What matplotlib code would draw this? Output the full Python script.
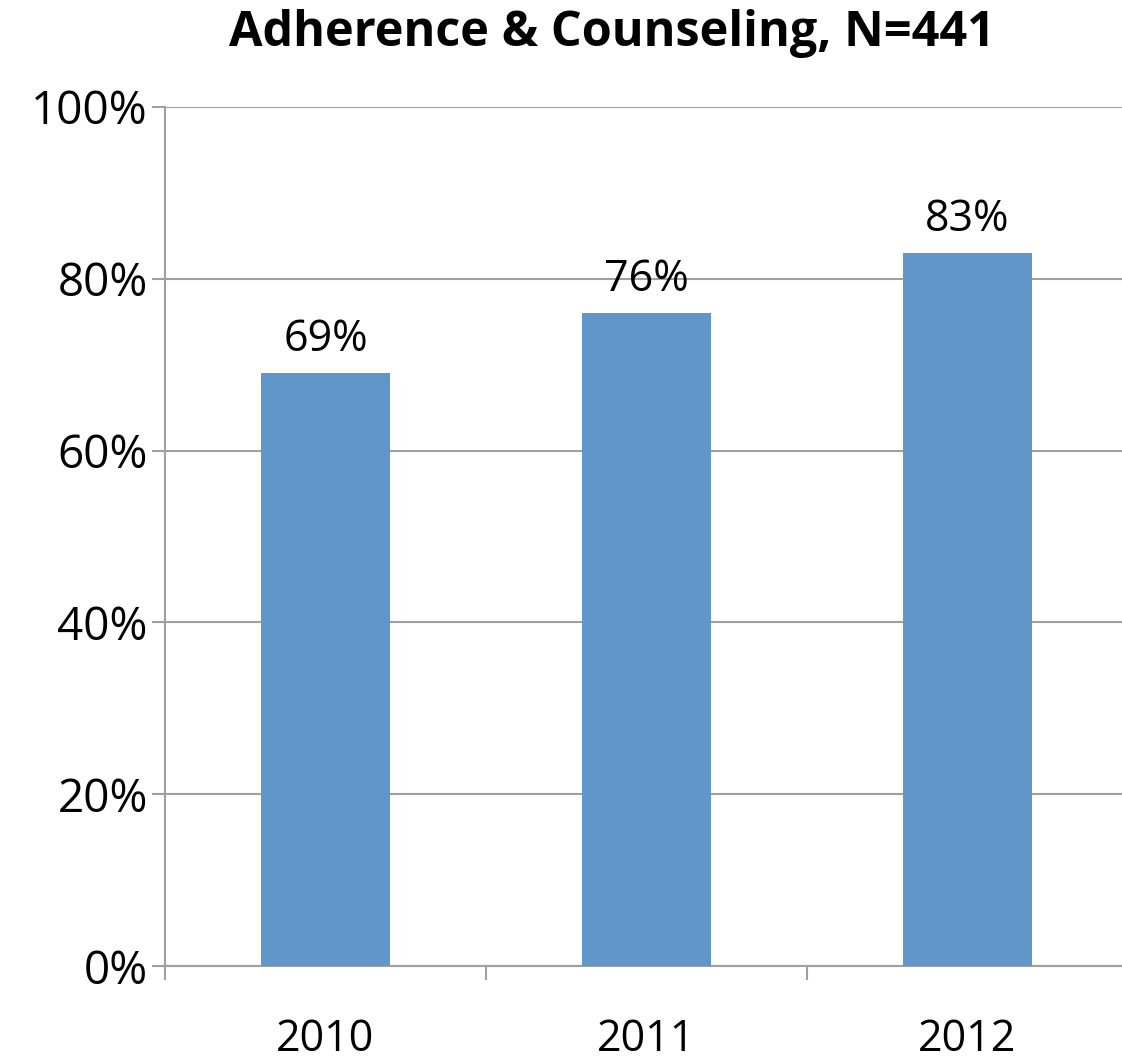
import matplotlib
matplotlib.use("Agg")
import matplotlib.pyplot as plt
from matplotlib.ticker import FuncFormatter

categories = ["2010", "2011", "2012"]
values = [69, 76, 83]
yticks = [0, 20, 40, 60, 80, 100]
title = "Adherence & Counseling, N=441"

plt.rcParams['font.family'] = ['Open Sans', 'DejaVu Sans']

fig = plt.figure(figsize=(11.22, 10.62), dpi=100)
W, H = 1122, 1062
left, right, top, bottom = 165, 1128, 107, 966
ax = fig.add_axes([left / W, 1 - bottom / H, (right - left) / W, (bottom - top) / H])

x = list(range(len(categories)))
bars = ax.bar(x, values, width=0.40, color="#6096C9", zorder=3)
for xi, v in zip(x, values):
    ax.text(xi, v + 1.3, f"{v}%", ha="center", va="bottom", fontsize=31, color="black")

ax.set_xlim(-0.5, 2.5)
ax.set_ylim(0, 100)
ax.set_yticks(yticks)
ax.yaxis.set_major_formatter(FuncFormatter(lambda v, p: f"{int(v)}%"))
ax.tick_params(axis="y", labelsize=33, length=9.4, color="#A0A0A0", width=1.5, pad=3)
ax.set_xticks([-0.5, 0.5, 1.5, 2.5])
ax.set_xticklabels([])
ax.set_xticks(x, minor=True)
ax.set_xticklabels(categories, minor=True)
ax.tick_params(axis="x", which="major", length=10, color="#A0A0A0", width=1.5)
ax.tick_params(axis="x", which="minor", length=0, labelsize=31, pad=37)
ax.grid(axis="y", color="#A0A0A0", linewidth=1.5, zorder=0)
for s in ["top", "right"]:
    ax.spines[s].set_visible(False)
for s in ["left", "bottom"]:
    ax.spines[s].set_color("#A0A0A0")
    ax.spines[s].set_linewidth(1.5)

fig.text(612 / W, 1 - 33 / H, title, ha="center", va="center", fontsize=35, fontweight="bold")

fig.savefig("out.png", dpi=100)
